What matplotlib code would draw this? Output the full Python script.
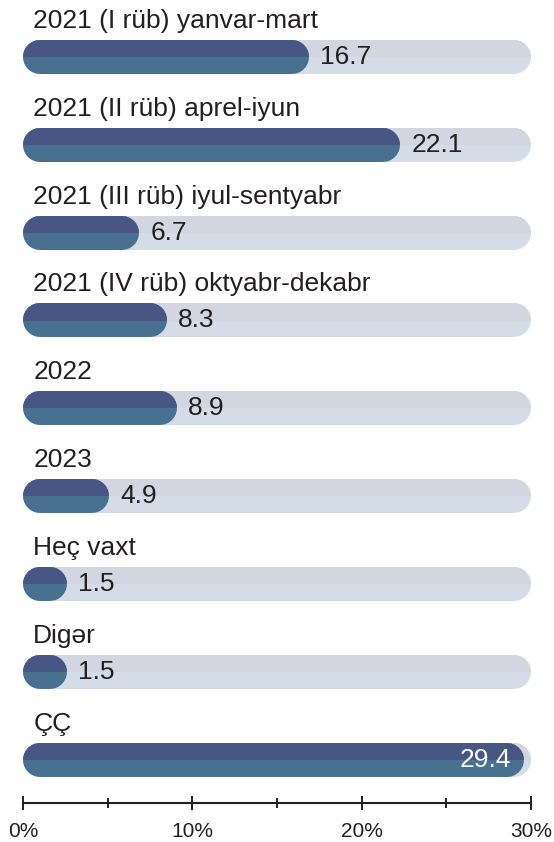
import matplotlib.pyplot as plt
from matplotlib.patches import Rectangle

plt.rcParams['font.family'] = ['Liberation Sans', 'DejaVu Sans']

labels = ['2021 (I rüb) yanvar-mart', '2021 (II rüb) aprel-iyun',
          '2021 (III rüb) iyul-sentyabr', '2021 (IV rüb) oktyabr-dekabr',
          '2022', '2023', 'Heç vaxt', 'Digər', 'ÇÇ']
values = [16.7, 22.1, 6.7, 8.3, 8.9, 4.9, 1.5, 1.5, 29.4]
xmax = 30
xticks = [0, 10, 20, 30]
xticks_minor = [5, 15, 25]

W, H = 554, 842
fig = plt.figure(figsize=(W / 100, H / 100), dpi=100)

# axes in pixels: x 23..531, y 0..803 (axis line at bottom)
x0px, x1px = 23, 531
ytop, ybot = 0, 803
ax = fig.add_axes([x0px / W, (H - ybot) / H, (x1px - x0px) / W, (ybot - ytop) / H])
c0, step = 56.8, 87.9
ax.set_ylim((ybot - c0) / step, (ytop - c0) / step)
ax.set_xlim(0, xmax)

pxx = (x1px - x0px) / xmax          # px per %
bar_px = 34
lw = bar_px * 72 / 100             # linewidth in points
r = bar_px / 2 / pxx               # cap radius in data units
min_w = 44 / pxx

dark_top, dark_bot = '#485684', '#49708f'
bg_top, bg_bot = '#d3d6e1', '#d4dde7'
txt = '#231f20'


def rbar(i, w, ctop, cbot):
    for col, clip in [(cbot, False), (ctop, True)]:
        ln, = ax.plot([r, w - r], [i, i], color=col, lw=lw,
                      solid_capstyle='round', clip_on=False)
        if clip:
            rect = Rectangle((-2, i - 0.5), xmax + 4, 0.5, transform=ax.transData)
            ln.set_clip_on(True)
            ln.set_clip_path(rect)


for i, (lab, v) in enumerate(zip(labels, values)):
    rbar(i, xmax, bg_top, bg_bot)
    w = max(v + 3 / pxx, min_w)
    rbar(i, w, dark_top, dark_bot)
    ax.text(0.6, i - 0.33, lab, fontsize=19, color=txt, va='baseline', ha='left')
    if v > 25:
        ax.text(w - 0.75, i, f'{v}', fontsize=19, color='white', va='center', ha='right')
    else:
        ax.text(w + 11 / pxx, i, f'{v}', fontsize=19, color=txt, va='center', ha='left')

for s in ['top', 'right', 'left']:
    ax.spines[s].set_visible(False)
ax.spines['bottom'].set_color(txt)
ax.spines['bottom'].set_linewidth(1.5)
ax.set_yticks([])
ax.set_xticks(xticks)
ax.set_xticklabels([f'{t}%' for t in xticks])
ax.set_xticks(xticks_minor, minor=True)
ax.tick_params(axis='x', which='major', direction='inout', length=10, width=1.4,
               color=txt, labelsize=15, labelcolor=txt, pad=9)
ax.tick_params(axis='x', which='minor', direction='inout', length=6.5, width=1.4, color=txt)
ax.patch.set_visible(False)

fig.savefig('out.png', dpi=100)
